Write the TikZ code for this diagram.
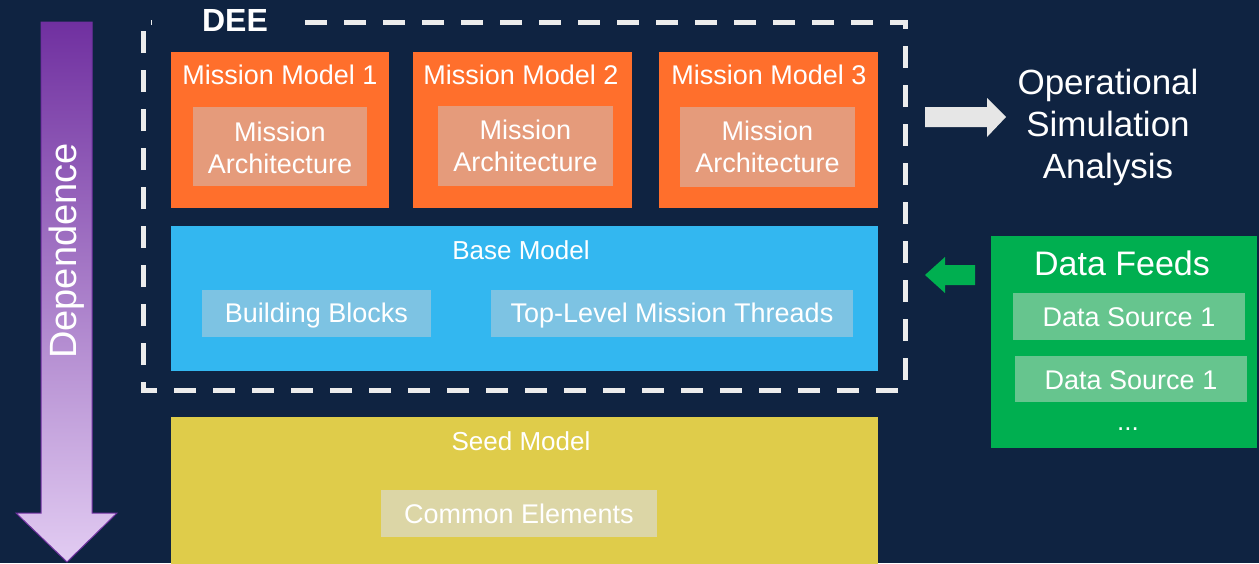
\documentclass[tikz,border=0pt]{standalone}
\usepackage{fontspec}
\setmainfont{Liberation Sans}
\definecolor{bg}{RGB}{15,35,65}
\definecolor{orangeM}{RGB}{255,111,44}
\definecolor{orangeIn}{RGB}{229,155,123}
\definecolor{blueM}{RGB}{51,183,240}
\definecolor{blueIn}{RGB}{125,195,227}
\definecolor{yellowM}{RGB}{223,204,74}
\definecolor{yellowIn}{RGB}{220,214,166}
\definecolor{greenM}{RGB}{0,175,80}
\definecolor{greenIn}{RGB}{102,197,142}
\definecolor{purpTop}{RGB}{112,48,160}
\definecolor{purpBot}{RGB}{226,204,242}
\definecolor{arrowGray}{RGB}{230,230,230}
\definecolor{dashW}{RGB}{236,236,236}
\begin{document}
\begin{tikzpicture}[x=1pt,y=-1pt,
  blk/.style={rectangle, inner sep=0pt, outer sep=0pt},
  txt/.style={inner sep=0pt, text=white, align=center},
  t27/.style={txt, font=\fontsize{27}{32}\selectfont},
  t26/.style={txt, font=\fontsize{26}{31}\selectfont},
]
\fill[bg] (0,0) rectangle (1259,563);
\useasboundingbox (0,0) rectangle (1259,563);

% Dependence arrow
\shade[top color=purpTop, bottom color=purpBot, draw=purpTop, line width=1pt]
  (41,22) -- (92,22) -- (92,513) -- (117,513) -- (67,562) -- (16,513) -- (41,513) -- cycle;
\node[txt, rotate=90, font=\fontsize{38}{44}\selectfont] (dep) at (67,251) {Dependence};

% DEE dashed frame
\draw[dashW, line width=5pt, dash pattern=on 22pt off 17pt]
  (305,22) -- (905,22) -- (905,390) -- (143,390) -- (143,22) -- (152,22);
\node[txt, font=\fontsize{32}{36}\selectfont\bfseries] (dee) at (235,20) {DEE};

% Mission models
\node[blk, fill=orangeM, minimum width=218pt, minimum height=156pt] (mm1) at (280,130) {};
\node[blk, fill=orangeM, minimum width=219pt, minimum height=156pt] (mm2) at (522.5,130) {};
\node[blk, fill=orangeM, minimum width=219pt, minimum height=156pt] (mm3) at (768.5,130) {};
\node[t27] (mm1t) at (280,75) {Mission Model 1};
\node[t27] (mm2t) at (521,75) {Mission Model 2};
\node[t27] (mm3t) at (769,75) {Mission Model 3};
\node[blk, fill=orangeIn, minimum width=174pt, minimum height=79pt] (ma1) at (280,146.5) {};
\node[blk, fill=orangeIn, minimum width=175pt, minimum height=80pt] (ma2) at (525.5,146) {};
\node[blk, fill=orangeIn, minimum width=175pt, minimum height=80pt] (ma3) at (767.5,147) {};
\node[t27] (ma1t) at (280,148) {Mission\\Architecture};
\node[t27] (ma2t) at (525.5,146) {Mission\\Architecture};
\node[t27] (ma3t) at (767.5,147) {Mission\\Architecture};

% Base model
\node[blk, fill=blueM, minimum width=707pt, minimum height=145pt] (base) at (524.5,298.5) {};
\node[t26] (baset) at (521,250) {Base Model};
\node[blk, fill=blueIn, minimum width=229pt, minimum height=47pt] (bb) at (316.5,313.5) {};
\node[t27] (bbt) at (316.5,316) {Building Blocks};
\node[blk, fill=blueIn, minimum width=362pt, minimum height=47pt] (tlmt) at (672,313.5) {};
\node[t27] (tlmtt) at (672,316) {Top-Level Mission Threads};

% Seed model
\node[blk, fill=yellowM, minimum width=707pt, minimum height=148pt] (seed) at (524.5,491) {};
\node[t26] (seedt) at (521,441) {Seed Model};
\node[blk, fill=yellowIn, minimum width=276pt, minimum height=47pt] (ce) at (519,513.5) {};
\node[t27] (cet) at (519,514) {Common Elements};

% Operational Simulation Analysis
\fill[arrowGray] (925,107) -- (987,107) -- (987,98) -- (1006,117) -- (987,137) -- (987,127) -- (925,127) -- cycle;
\node[txt, font=\fontsize{35}{42}\selectfont] (osa) at (1108,127) {Operational\\Simulation\\Analysis};

% Data feeds
\fill[greenM] (925,275) -- (945,257) -- (945,265) -- (975,265) -- (975,285) -- (945,285) -- (945,293) -- cycle;
\node[blk, fill=greenM, minimum width=266pt, minimum height=212pt] (df) at (1124,342) {};
\node[txt, font=\fontsize{34}{40}\selectfont] (dft) at (1122,263) {Data Feeds};
\node[blk, fill=greenIn, minimum width=232pt, minimum height=47pt] (ds1) at (1129,316.5) {};
\node[t27] (ds1t) at (1129,317.5) {Data Source 1};
\node[blk, fill=greenIn, minimum width=232pt, minimum height=46pt] (ds2) at (1131,379) {};
\node[t27] (ds2t) at (1131,380) {Data Source 1};
\node[t26] (dots) at (1128,429) {...};
\end{tikzpicture}
\end{document}
